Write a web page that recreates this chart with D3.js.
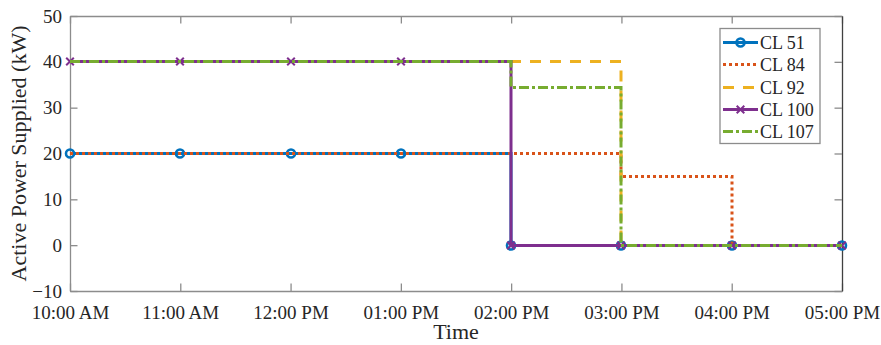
<!DOCTYPE html>
<html><head><meta charset="utf-8">
<script src="https://cdn.jsdelivr.net/npm/d3@7"></script>
<style>body{margin:0;background:#fff}svg{display:block}text{font-family:"Liberation Serif","Times New Roman",serif;fill:#262626}</style>
</head><body><svg id="c" width="881" height="345"></svg>
<script>
const timeLabels = ["10:00 AM","11:00 AM","12:00 PM","01:00 PM","02:00 PM","03:00 PM","04:00 PM","05:00 PM"];
const cl51  = [20,20,20,20,0,0,0,0];
const cl84  = [20,20,20,20,20,15,0,0];
const cl92  = [40,40,40,40,40,0,0,0];
const cl100 = [40,40,40,40,0,0,0,0];
const cl107 = [40,40,40,40,34.3,0,0,0];
const seriesNames = ["CL 51","CL 84","CL 92","CL 100","CL 107"];
const yTicks = [-10,0,10,20,30,40,50];

const series = [
  {name:seriesNames[0], v:cl51,  color:"#0072BD", dash:null, marker:"o"},
  {name:seriesNames[1], v:cl84,  color:"#D95319", dash:"3,3", marker:null},
  {name:seriesNames[2], v:cl92,  color:"#EDB120", dash:"11,9", marker:null},
  {name:seriesNames[3], v:cl100, color:"#7E2F8E", dash:null, marker:"x"},
  {name:seriesNames[4], v:cl107, color:"#77AC30", dash:"10,3,3,3", marker:null}
];

const svg = d3.select("#c");
const L=70, R=842, T=16, B=291;
const x = d3.scaleLinear().domain([0, timeLabels.length-1]).range([L,R]);
const y = d3.scaleLinear().domain([-10,50]).range([B,T]);
const axisCol = "#8c8c8c";
const tickLen = 7.5;
const lw = 3;
const sx = i => Math.round(x(i));
const sy = v => Math.floor(y(v)) + 0.5;

// axes
const gx = svg.append("g").attr("transform",`translate(0,${B})`)
  .call(d3.axisBottom(x).tickValues(d3.range(timeLabels.length)).tickFormat(i=>timeLabels[i]).tickSizeInner(-tickLen).tickSizeOuter(0).tickPadding(15));
const gy = svg.append("g").attr("transform",`translate(${L},0)`)
  .call(d3.axisLeft(y).tickValues(yTicks).tickSizeInner(-tickLen).tickSizeOuter(0).tickPadding(8));
const gt = svg.append("g").attr("transform",`translate(0,${T})`)
  .call(d3.axisTop(x).tickValues(d3.range(timeLabels.length)).tickFormat("").tickSizeInner(-tickLen).tickSizeOuter(0));
const gr = svg.append("g").attr("transform",`translate(${R},0)`)
  .call(d3.axisRight(y).tickValues(yTicks).tickFormat("").tickSizeInner(-tickLen).tickSizeOuter(0));
[gx,gy,gt,gr].forEach(g=>{
  g.selectAll("path.domain").attr("stroke",axisCol).attr("stroke-width",1.3);
  g.selectAll(".tick line").attr("stroke",axisCol).attr("stroke-width",1.3);
  g.selectAll(".tick text").style("font-size","19px").style("fill","#262626").style("font-family","Liberation Serif");
});
gr.select("path.domain").attr("stroke","#404040");

// lines
const line = d3.line().x((d,i)=>sx(i)).y(d=>sy(d)).curve(d3.curveStepAfter);
const plot = svg.append("g");
series.forEach(s=>{
  plot.append("path").datum(s.v).attr("d",line).attr("fill","none")
    .attr("stroke",s.color).attr("stroke-width",lw)
    .attr("stroke-dasharray",s.dash);
  if(s.marker==="o"){
    plot.selectAll(null).data(s.v).enter().append("circle")
      .attr("cx",(d,i)=>sx(i)).attr("cy",d=>sy(d)).attr("r",4)
      .attr("fill","none").attr("stroke",s.color).attr("stroke-width",2.6);
  } else if(s.marker==="x"){
    const r=3.8;
    plot.selectAll(null).data(s.v).enter().append("path")
      .attr("d",(d,i)=>`M${sx(i)-r},${sy(d)-r}L${sx(i)+r},${sy(d)+r}M${sx(i)-r},${sy(d)+r}L${sx(i)+r},${sy(d)-r}`)
      .attr("stroke",s.color).attr("stroke-width",2);
  }
});

// axis labels
svg.append("text").attr("x",(L+R)/2).attr("y",339).attr("text-anchor","middle")
  .style("font-size","22px").text("Time");
svg.append("text").attr("transform",`translate(26,${(T+B)/2}) rotate(-90)`).attr("text-anchor","middle")
  .style("font-size","22px").text("Active Power Supplied (kW)");

// legend
const lg = svg.append("g");
lg.append("rect").attr("x",720).attr("y",28.5).attr("width",100).attr("height",115)
  .attr("fill","#fff").attr("stroke",axisCol).attr("stroke-width",1.3);
series.forEach((s,i)=>{
  const yy = Math.round(42 + i*22.3)+0.5;
  lg.append("line").attr("x1",723).attr("x2",758).attr("y1",yy).attr("y2",yy)
    .attr("stroke",s.color).attr("stroke-width",lw).attr("stroke-dasharray",s.dash);
  if(s.marker==="o") lg.append("circle").attr("cx",740.5).attr("cy",yy).attr("r",4).attr("fill","none").attr("stroke",s.color).attr("stroke-width",2.6);
  if(s.marker==="x"){const r=3.8,cx=740.5;lg.append("path").attr("d",`M${cx-r},${yy-r}L${cx+r},${yy+r}M${cx-r},${yy+r}L${cx+r},${yy-r}`).attr("stroke",s.color).attr("stroke-width",2);}
  lg.append("text").attr("x",760).attr("y",yy).attr("dy","0.35em").style("font-size","18px").text(s.name);
});
</script></body></html>
